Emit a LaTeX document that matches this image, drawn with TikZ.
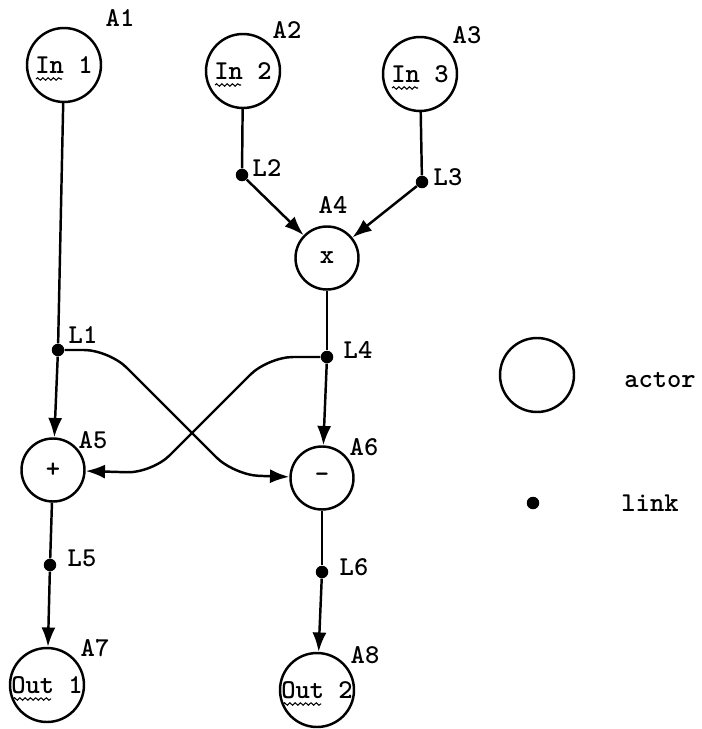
\documentclass[tikz,border=0pt]{standalone}
\usepackage{fontspec}
\usetikzlibrary{arrows.meta,decorations.pathmorphing}
\begin{document}
\begin{tikzpicture}[
  font=\ttfamily\bfseries\fontsize{15.5}{18}\selectfont,
  actor/.style={circle, draw, line width=1.4pt, minimum size=1.48cm, inner sep=0pt},
  op/.style={circle, draw, line width=1.4pt, minimum size=1.26cm, inner sep=0pt},
  link/.style={circle, fill, inner sep=0pt, minimum size=0.25cm},
  wire/.style={line width=1.4pt},
  arr/.style={line width=1.4pt, -{Latex[length=11pt,width=8pt]}},
  wavy/.style={line width=0.6pt, decorate, decoration={snake, amplitude=0.7pt, segment length=3pt}}]

\useasboundingbox (0,0) rectangle (14.04,-14.58);

\node[actor] (A1) at (1.28,-1.30) {In 1};
\node[actor] (A2) at (4.86,-1.42) {In 2};
\node[actor] (A3) at (8.40,-1.48) {In 3};
\node[op] (A4) at (6.54,-5.16) {x};
\node[op] (A5) at (1.06,-9.40) {+};
\node[op] (A6) at (6.44,-9.56) {-};
\node[actor] (A7) at (0.94,-13.70) {Out 1};
\node[actor] (A8) at (6.34,-13.80) {Out 2};

\foreach \a in {A1,A2,A3}
  \draw[wavy] ([xshift=-0.56cm,yshift=-0.28cm]\a.center) -- ++(0.52,0);
\foreach \a in {A7,A8}
  \draw[wavy] ([xshift=-0.68cm,yshift=-0.28cm]\a.center) -- ++(0.76,0);

\node[link] (L1) at (1.16,-7.00) {};
\node[link] (L2) at (4.84,-3.50) {};
\node[link] (L3) at (8.44,-3.64) {};
\node[link] (L4) at (6.54,-7.14) {};
\node[link] (L5) at (1.00,-11.30) {};
\node[link] (L6) at (6.44,-11.44) {};

\node (nA1) at (2.40,-0.36) {A1};
\node (nA2) at (5.74,-0.60) {A2};
\node (nA3) at (9.34,-0.70) {A3};
\node (nA4) at (6.66,-4.10) {A4};
\node (nA5) at (1.86,-8.80) {A5};
\node (nA6) at (7.28,-8.94) {A6};
\node (nA7) at (1.90,-12.96) {A7};
\node (nA8) at (7.30,-13.10) {A8};
\node (nL1) at (1.66,-6.70) {L1};
\node (nL2) at (5.34,-3.36) {L2};
\node (nL3) at (8.96,-3.54) {L3};
\node (nL4) at (7.16,-7.00) {L4};
\node (nL5) at (1.64,-11.16) {L5};
\node (nL6) at (7.08,-11.34) {L6};

\draw[wire] (A1) -- (L1);
\draw[wire] (A2) -- (L2);
\draw[wire] (A3) -- (L3);
\draw[wire] (A4) -- (L4);
\draw[wire] (A5) -- (L5);
\draw[wire] (A6) -- (L6);
\draw[arr] (L2) -- (A4);
\draw[arr] (L3) -- (A4);
\draw[arr] (L1) -- (A5);
\draw[arr] (L4) -- (A6);
\draw[arr] (L5) -- (A7);
\draw[arr] (L6) -- (A8);
\draw[arr, rounded corners=0.5cm] (L1) -- (2.18,-7.00) -- (4.68,-9.50) -- (A6);
\draw[arr, rounded corners=0.5cm] (L4) -- (5.36,-7.14) -- (3.04,-9.46) -- (A5);

\node[actor] (key) at (10.74,-7.50) {};
\node (keytext) at (13.20,-7.60) {actor};
\node[link] (keylink) at (10.66,-10.06) {};
\node (linktext) at (13.00,-10.06) {link};

\end{tikzpicture}
\end{document}
